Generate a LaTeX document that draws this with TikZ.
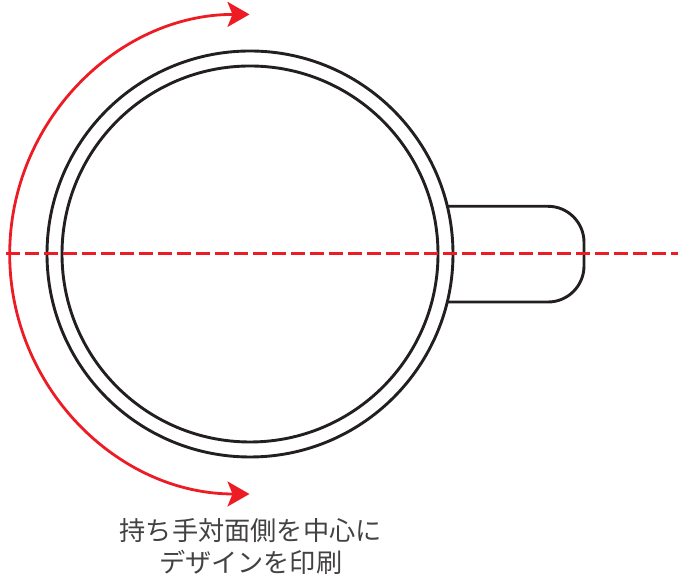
\documentclass[tikz,border=0pt]{standalone}
\usepackage{fontspec}
\newfontfamily\jpfont{Noto Sans CJK JP}
\usetikzlibrary{arrows.meta}
\definecolor{cupred}{HTML}{ED1C24}
\definecolor{cupblack}{HTML}{231F20}
\tikzset{
  cupline/.style={draw=cupblack,line width=2.9pt},
  ring/.style={cupline,circle,inner sep=0pt,outer sep=0pt},
  redarrow/.style={draw=cupred,line width=2.8pt,{Stealth[length=22pt,width=25pt,inset=5pt,fill=cupred]}-{Stealth[length=22pt,width=25pt,inset=5pt,fill=cupred]}},
  axis/.style={draw=cupred,line width=3pt,dash pattern=on 13.5pt off 5.5pt},
  caption/.style={font=\jpfont\fontsize{26.2pt}{32pt}\selectfont,text=cupblack!85,align=center,inner sep=0pt}
}
\begin{document}
\begin{tikzpicture}[x=1pt,y=1pt]
\useasboundingbox (0,0) rectangle (678,580);
\node[ring,minimum size=406pt] (outer) at (250,326) {};
\node[ring,minimum size=376pt] (inner) at (250,326) {};
\coordinate (hs) at (447.5,373.7);
\coordinate (he) at (447.5,278);
\draw[cupline,line join=round] (hs) -- (548,373.7) arc[start angle=90,end angle=0,radius=36pt] -- (584,314) arc[start angle=0,end angle=-90,radius=36pt] -- (he);
\coordinate (a1) at (249.5,565.6);
\coordinate (a2) at (249.5,86);
\draw[redarrow] (a1) arc[start angle=90,end angle=270,radius=239.8pt];
\coordinate (l1) at (6,326);
\coordinate (l2) at (678,326);
\draw[axis] (l1) -- (l2);
\node[caption] (cap) at (250.7,33) {持ち手対面側を中心に\\デザインを印刷};
\end{tikzpicture}
\end{document}
